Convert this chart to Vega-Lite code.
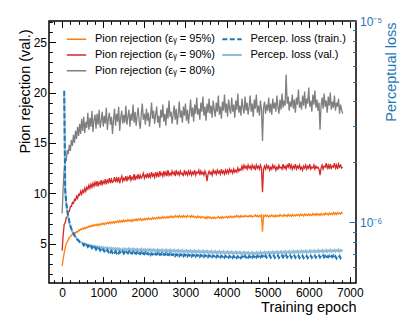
{
"$schema":"https://vega.github.io/schema/vega-lite/v6.json",
"width":307,"height":262,
"autosize":{"type":"none"},
"padding":{"left":49,"top":21,"right":59,"bottom":49},
"config":{
 "view":{"stroke":"#000","strokeWidth":1.5},
 "font":"Liberation Sans",
 "axis":{"domain":false,"grid":false,"labelFont":"Liberation Sans","labelFontSize":12,"titleFont":"Liberation Sans","titleFontSize":14.5,"titleFontWeight":"normal","labelColor":"#000","titleColor":"#000","tickColor":"#000","tickWidth":1,"labelFlush":false,"labelOverlap":false,"labelBound":false},
 "legend":{"labelFont":"Liberation Sans"}
},
"datasets":{
"p95":[{"e":0,"v":2.8},{"e":25,"v":3.5},{"e":50,"v":4.1},{"e":75,"v":4.6},{"e":100,"v":5.0},{"e":125,"v":5.2},{"e":150,"v":5.4},{"e":175,"v":5.6},{"e":200,"v":5.75},{"e":225,"v":5.8},{"e":250,"v":5.95},{"e":275,"v":5.9},{"e":300,"v":6.1},{"e":325,"v":6.05},{"e":350,"v":6.2},{"e":375,"v":6.15},{"e":400,"v":6.35},{"e":425,"v":6.3},{"e":450,"v":6.45},{"e":475,"v":6.4},{"e":500,"v":6.55},{"e":525,"v":6.45},{"e":550,"v":6.6},{"e":575,"v":6.5},{"e":600,"v":6.65},{"e":625,"v":6.6},{"e":650,"v":6.75},{"e":675,"v":6.65},{"e":700,"v":6.8},{"e":725,"v":6.7},{"e":750,"v":6.85},{"e":775,"v":6.75},{"e":800,"v":6.9},{"e":825,"v":6.8},{"e":850,"v":6.95},{"e":875,"v":6.8},{"e":900,"v":6.95},{"e":925,"v":6.85},{"e":950,"v":7.0},{"e":975,"v":6.9},{"e":1000,"v":7.05},{"e":1025,"v":6.9},{"e":1050,"v":7.05},{"e":1075,"v":6.95},{"e":1100,"v":7.1},{"e":1125,"v":7.0},{"e":1150,"v":7.15},{"e":1175,"v":7.0},{"e":1200,"v":7.15},{"e":1225,"v":7.05},{"e":1250,"v":7.2},{"e":1275,"v":7.05},{"e":1300,"v":7.2},{"e":1325,"v":7.1},{"e":1350,"v":7.25},{"e":1375,"v":7.1},{"e":1400,"v":7.3},{"e":1425,"v":7.15},{"e":1450,"v":7.3},{"e":1475,"v":7.15},{"e":1500,"v":7.35},{"e":1525,"v":7.2},{"e":1550,"v":7.3},{"e":1575,"v":7.2},{"e":1600,"v":7.4},{"e":1625,"v":7.25},{"e":1650,"v":7.35},{"e":1675,"v":7.2},{"e":1700,"v":7.4},{"e":1725,"v":7.25},{"e":1750,"v":7.4},{"e":1775,"v":7.3},{"e":1800,"v":7.45},{"e":1825,"v":7.3},{"e":1850,"v":7.45},{"e":1875,"v":7.35},{"e":1900,"v":7.5},{"e":1925,"v":7.3},{"e":1950,"v":7.45},{"e":1975,"v":7.35},{"e":2000,"v":7.5},{"e":2025,"v":7.35},{"e":2050,"v":7.5},{"e":2075,"v":7.4},{"e":2100,"v":7.55},{"e":2125,"v":7.4},{"e":2150,"v":7.5},{"e":2175,"v":7.4},{"e":2200,"v":7.6},{"e":2225,"v":7.45},{"e":2250,"v":7.55},{"e":2275,"v":7.45},{"e":2300,"v":7.6},{"e":2325,"v":7.5},{"e":2350,"v":7.65},{"e":2375,"v":7.5},{"e":2400,"v":7.6},{"e":2425,"v":7.5},{"e":2450,"v":7.7},{"e":2475,"v":7.55},{"e":2500,"v":7.65},{"e":2525,"v":7.55},{"e":2550,"v":7.7},{"e":2575,"v":7.55},{"e":2600,"v":7.7},{"e":2625,"v":7.6},{"e":2650,"v":7.75},{"e":2675,"v":7.6},{"e":2700,"v":7.7},{"e":2725,"v":7.6},{"e":2750,"v":7.8},{"e":2775,"v":7.65},{"e":2800,"v":7.75},{"e":2825,"v":7.6},{"e":2850,"v":7.8},{"e":2875,"v":7.65},{"e":2900,"v":7.75},{"e":2925,"v":7.6},{"e":2950,"v":7.8},{"e":2975,"v":7.65},{"e":3000,"v":7.75},{"e":3025,"v":7.6},{"e":3050,"v":7.8},{"e":3075,"v":7.7},{"e":3100,"v":7.75},{"e":3125,"v":7.6},{"e":3150,"v":7.8},{"e":3175,"v":7.65},{"e":3200,"v":7.75},{"e":3225,"v":7.6},{"e":3250,"v":7.7},{"e":3275,"v":7.55},{"e":3300,"v":7.75},{"e":3325,"v":7.6},{"e":3350,"v":7.7},{"e":3375,"v":7.55},{"e":3400,"v":7.7},{"e":3425,"v":7.6},{"e":3450,"v":7.65},{"e":3475,"v":7.5},{"e":3500,"v":7.65},{"e":3525,"v":7.5},{"e":3550,"v":7.7},{"e":3575,"v":7.55},{"e":3600,"v":7.65},{"e":3625,"v":7.5},{"e":3650,"v":7.6},{"e":3675,"v":7.5},{"e":3700,"v":7.65},{"e":3725,"v":7.5},{"e":3750,"v":7.6},{"e":3775,"v":7.55},{"e":3800,"v":7.7},{"e":3825,"v":7.55},{"e":3850,"v":7.65},{"e":3875,"v":7.5},{"e":3900,"v":7.7},{"e":3925,"v":7.55},{"e":3950,"v":7.65},{"e":3975,"v":7.6},{"e":4000,"v":7.7},{"e":4025,"v":7.55},{"e":4050,"v":7.7},{"e":4075,"v":7.6},{"e":4100,"v":7.75},{"e":4125,"v":7.6},{"e":4150,"v":7.7},{"e":4175,"v":7.6},{"e":4200,"v":7.75},{"e":4225,"v":7.65},{"e":4250,"v":7.8},{"e":4275,"v":7.65},{"e":4300,"v":7.75},{"e":4325,"v":7.6},{"e":4350,"v":7.8},{"e":4375,"v":7.65},{"e":4400,"v":7.75},{"e":4425,"v":7.65},{"e":4450,"v":7.8},{"e":4475,"v":7.7},{"e":4500,"v":7.75},{"e":4525,"v":7.65},{"e":4550,"v":7.8},{"e":4575,"v":7.7},{"e":4600,"v":7.8},{"e":4625,"v":7.65},{"e":4650,"v":7.75},{"e":4675,"v":7.7},{"e":4700,"v":7.85},{"e":4725,"v":7.7},{"e":4750,"v":7.8},{"e":4775,"v":7.65},{"e":4800,"v":7.8},{"e":4825,"v":7.7},{"e":4850,"v":7.85},{"e":4875,"v":6.2},{"e":4900,"v":7.8},{"e":4925,"v":7.7},{"e":4950,"v":7.85},{"e":4975,"v":7.7},{"e":5000,"v":7.8},{"e":5025,"v":7.65},{"e":5050,"v":7.8},{"e":5075,"v":7.7},{"e":5100,"v":7.85},{"e":5125,"v":7.7},{"e":5150,"v":7.8},{"e":5175,"v":7.65},{"e":5200,"v":7.85},{"e":5225,"v":7.7},{"e":5250,"v":7.8},{"e":5275,"v":7.7},{"e":5300,"v":7.9},{"e":5325,"v":7.75},{"e":5350,"v":7.8},{"e":5375,"v":7.7},{"e":5400,"v":7.9},{"e":5425,"v":7.75},{"e":5450,"v":7.85},{"e":5475,"v":7.7},{"e":5500,"v":7.9},{"e":5525,"v":7.75},{"e":5550,"v":7.85},{"e":5575,"v":7.7},{"e":5600,"v":7.9},{"e":5625,"v":7.75},{"e":5650,"v":7.85},{"e":5675,"v":7.75},{"e":5700,"v":7.9},{"e":5725,"v":7.8},{"e":5750,"v":7.9},{"e":5775,"v":7.75},{"e":5800,"v":7.95},{"e":5825,"v":7.8},{"e":5850,"v":7.9},{"e":5875,"v":7.75},{"e":5900,"v":7.95},{"e":5925,"v":7.8},{"e":5950,"v":7.9},{"e":5975,"v":7.8},{"e":6000,"v":7.95},{"e":6025,"v":7.8},{"e":6050,"v":7.9},{"e":6075,"v":7.8},{"e":6100,"v":8.0},{"e":6125,"v":7.85},{"e":6150,"v":7.95},{"e":6175,"v":7.8},{"e":6200,"v":8.0},{"e":6225,"v":7.85},{"e":6250,"v":7.95},{"e":6275,"v":7.8},{"e":6300,"v":8.0},{"e":6325,"v":7.85},{"e":6350,"v":7.95},{"e":6375,"v":7.85},{"e":6400,"v":8.05},{"e":6425,"v":7.9},{"e":6450,"v":8.0},{"e":6475,"v":7.85},{"e":6500,"v":8.05},{"e":6525,"v":7.9},{"e":6550,"v":8.0},{"e":6575,"v":7.9},{"e":6600,"v":8.1},{"e":6625,"v":7.9},{"e":6650,"v":8.05},{"e":6675,"v":7.9},{"e":6700,"v":8.1},{"e":6725,"v":7.95},{"e":6750,"v":8.05},{"e":6775,"v":7.95},{"e":6800,"v":8.1},{"e":6825,"v":8.0}],
"p90":[{"e":0,"v":4.3},{"e":25,"v":5.9},{"e":50,"v":6.9},{"e":75,"v":7.1},{"e":100,"v":7.6},{"e":125,"v":7.7},{"e":150,"v":8.2},{"e":175,"v":8.2},{"e":200,"v":8.7},{"e":225,"v":8.7},{"e":250,"v":9.1},{"e":275,"v":9.0},{"e":300,"v":9.4},{"e":325,"v":9.3},{"e":350,"v":9.7},{"e":375,"v":9.5},{"e":400,"v":9.9},{"e":425,"v":9.8},{"e":450,"v":10.2},{"e":475,"v":9.9},{"e":500,"v":10.3},{"e":525,"v":10.1},{"e":550,"v":10.5},{"e":575,"v":10.2},{"e":600,"v":10.6},{"e":625,"v":10.4},{"e":650,"v":10.8},{"e":675,"v":10.5},{"e":700,"v":10.9},{"e":725,"v":10.6},{"e":750,"v":11.0},{"e":775,"v":10.7},{"e":800,"v":11.1},{"e":825,"v":10.8},{"e":850,"v":11.2},{"e":875,"v":10.7},{"e":900,"v":11.1},{"e":925,"v":10.9},{"e":950,"v":11.3},{"e":975,"v":10.8},{"e":1000,"v":11.2},{"e":1025,"v":11.0},{"e":1050,"v":11.4},{"e":1075,"v":10.9},{"e":1100,"v":11.3},{"e":1125,"v":11.1},{"e":1150,"v":11.5},{"e":1175,"v":11.0},{"e":1200,"v":11.4},{"e":1225,"v":11.1},{"e":1250,"v":11.2},{"e":1275,"v":11.6},{"e":1300,"v":11.1},{"e":1325,"v":11.5},{"e":1350,"v":11.2},{"e":1375,"v":11.6},{"e":1400,"v":11.0},{"e":1425,"v":11.4},{"e":1450,"v":11.7},{"e":1475,"v":11.2},{"e":1500,"v":11.5},{"e":1525,"v":11.3},{"e":1550,"v":11.7},{"e":1575,"v":11.2},{"e":1600,"v":11.6},{"e":1625,"v":11.4},{"e":1650,"v":11.8},{"e":1675,"v":11.3},{"e":1700,"v":11.6},{"e":1725,"v":11.4},{"e":1750,"v":11.9},{"e":1775,"v":11.3},{"e":1800,"v":11.7},{"e":1825,"v":11.5},{"e":1850,"v":11.9},{"e":1875,"v":11.4},{"e":1900,"v":11.8},{"e":1925,"v":11.5},{"e":1950,"v":11.7},{"e":1975,"v":12.0},{"e":2000,"v":11.5},{"e":2025,"v":11.8},{"e":2050,"v":11.6},{"e":2075,"v":12.0},{"e":2100,"v":11.5},{"e":2125,"v":11.9},{"e":2150,"v":11.6},{"e":2175,"v":12.1},{"e":2200,"v":11.7},{"e":2225,"v":11.9},{"e":2250,"v":11.6},{"e":2275,"v":12.1},{"e":2300,"v":11.7},{"e":2325,"v":12.0},{"e":2350,"v":11.6},{"e":2375,"v":12.2},{"e":2400,"v":11.8},{"e":2425,"v":12.0},{"e":2450,"v":11.7},{"e":2475,"v":12.2},{"e":2500,"v":11.8},{"e":2525,"v":12.1},{"e":2550,"v":11.7},{"e":2575,"v":12.3},{"e":2600,"v":11.8},{"e":2625,"v":12.0},{"e":2650,"v":11.8},{"e":2675,"v":12.2},{"e":2700,"v":11.9},{"e":2725,"v":12.1},{"e":2750,"v":11.7},{"e":2775,"v":12.3},{"e":2800,"v":11.9},{"e":2825,"v":12.1},{"e":2850,"v":11.8},{"e":2875,"v":12.2},{"e":2900,"v":11.9},{"e":2925,"v":12.0},{"e":2950,"v":11.7},{"e":2975,"v":12.3},{"e":3000,"v":11.9},{"e":3025,"v":12.1},{"e":3050,"v":11.8},{"e":3075,"v":12.2},{"e":3100,"v":11.9},{"e":3125,"v":12.2},{"e":3150,"v":11.8},{"e":3175,"v":12.1},{"e":3200,"v":11.9},{"e":3225,"v":12.3},{"e":3250,"v":11.8},{"e":3275,"v":12.1},{"e":3300,"v":12.0},{"e":3325,"v":12.3},{"e":3350,"v":11.8},{"e":3375,"v":12.2},{"e":3400,"v":11.9},{"e":3425,"v":12.1},{"e":3450,"v":11.8},{"e":3475,"v":12.2},{"e":3500,"v":11.9},{"e":3525,"v":11.2},{"e":3550,"v":11.9},{"e":3575,"v":12.2},{"e":3600,"v":11.9},{"e":3625,"v":12.1},{"e":3650,"v":11.8},{"e":3675,"v":12.3},{"e":3700,"v":12.0},{"e":3725,"v":12.2},{"e":3750,"v":11.9},{"e":3775,"v":12.3},{"e":3800,"v":12.0},{"e":3825,"v":12.2},{"e":3850,"v":11.9},{"e":3875,"v":12.4},{"e":3900,"v":12.0},{"e":3925,"v":12.2},{"e":3950,"v":11.9},{"e":3975,"v":12.3},{"e":4000,"v":12.0},{"e":4025,"v":12.3},{"e":4050,"v":12.0},{"e":4075,"v":12.4},{"e":4100,"v":12.1},{"e":4125,"v":12.3},{"e":4150,"v":12.0},{"e":4175,"v":12.4},{"e":4200,"v":12.1},{"e":4225,"v":12.3},{"e":4250,"v":12.1},{"e":4275,"v":12.5},{"e":4300,"v":12.2},{"e":4325,"v":12.4},{"e":4350,"v":12.3},{"e":4375,"v":12.7},{"e":4400,"v":12.4},{"e":4425,"v":12.8},{"e":4450,"v":12.5},{"e":4475,"v":12.7},{"e":4500,"v":12.4},{"e":4525,"v":12.8},{"e":4550,"v":12.5},{"e":4575,"v":12.7},{"e":4600,"v":12.4},{"e":4625,"v":12.8},{"e":4650,"v":12.5},{"e":4675,"v":12.7},{"e":4700,"v":12.3},{"e":4725,"v":12.8},{"e":4750,"v":12.5},{"e":4775,"v":12.7},{"e":4800,"v":12.4},{"e":4825,"v":12.8},{"e":4850,"v":12.5},{"e":4875,"v":10.1},{"e":4900,"v":12.4},{"e":4925,"v":12.7},{"e":4950,"v":12.4},{"e":4975,"v":12.8},{"e":5000,"v":12.5},{"e":5025,"v":12.7},{"e":5050,"v":12.3},{"e":5075,"v":12.6},{"e":5100,"v":12.4},{"e":5125,"v":12.8},{"e":5150,"v":12.5},{"e":5175,"v":12.7},{"e":5200,"v":12.3},{"e":5225,"v":12.6},{"e":5250,"v":12.4},{"e":5275,"v":12.8},{"e":5300,"v":12.5},{"e":5325,"v":12.6},{"e":5350,"v":12.4},{"e":5375,"v":12.9},{"e":5400,"v":12.5},{"e":5425,"v":12.7},{"e":5450,"v":12.4},{"e":5475,"v":12.8},{"e":5500,"v":12.6},{"e":5525,"v":13.0},{"e":5550,"v":12.5},{"e":5575,"v":12.8},{"e":5600,"v":12.4},{"e":5625,"v":12.7},{"e":5650,"v":12.5},{"e":5675,"v":12.9},{"e":5700,"v":12.4},{"e":5725,"v":12.7},{"e":5750,"v":12.5},{"e":5775,"v":12.8},{"e":5800,"v":12.4},{"e":5825,"v":12.6},{"e":5850,"v":12.3},{"e":5875,"v":12.7},{"e":5900,"v":12.5},{"e":5925,"v":12.8},{"e":5950,"v":12.4},{"e":5975,"v":12.7},{"e":6000,"v":12.5},{"e":6025,"v":12.9},{"e":6050,"v":12.4},{"e":6075,"v":12.6},{"e":6100,"v":12.5},{"e":6125,"v":12.8},{"e":6150,"v":12.4},{"e":6175,"v":12.7},{"e":6200,"v":12.5},{"e":6225,"v":12.6},{"e":6250,"v":12.4},{"e":6275,"v":11.8},{"e":6300,"v":12.5},{"e":6325,"v":12.8},{"e":6350,"v":12.4},{"e":6375,"v":12.7},{"e":6400,"v":12.6},{"e":6425,"v":13.0},{"e":6450,"v":12.5},{"e":6475,"v":12.8},{"e":6500,"v":12.4},{"e":6525,"v":12.9},{"e":6550,"v":12.5},{"e":6575,"v":12.7},{"e":6600,"v":12.6},{"e":6625,"v":13.0},{"e":6650,"v":12.5},{"e":6675,"v":12.8},{"e":6700,"v":12.4},{"e":6725,"v":12.9},{"e":6750,"v":12.6},{"e":6775,"v":12.8},{"e":6800,"v":12.5},{"e":6825,"v":12.6}],
"p80":[{"e":0,"v":8.0},{"e":25,"v":10.6},{"e":50,"v":12.4},{"e":75,"v":13.6},{"e":100,"v":13.2},{"e":125,"v":14.3},{"e":150,"v":13.9},{"e":175,"v":14.8},{"e":200,"v":14.2},{"e":225,"v":15.3},{"e":250,"v":14.7},{"e":275,"v":15.8},{"e":300,"v":15.0},{"e":325,"v":16.2},{"e":350,"v":15.4},{"e":375,"v":16.6},{"e":400,"v":15.7},{"e":425,"v":16.9},{"e":450,"v":15.9},{"e":475,"v":17.4},{"e":500,"v":16.2},{"e":525,"v":17.6},{"e":550,"v":16.0},{"e":575,"v":17.1},{"e":600,"v":16.5},{"e":625,"v":18.0},{"e":650,"v":16.3},{"e":675,"v":17.5},{"e":700,"v":16.6},{"e":725,"v":18.2},{"e":750,"v":16.1},{"e":775,"v":17.3},{"e":800,"v":17.8},{"e":825,"v":16.4},{"e":850,"v":17.9},{"e":875,"v":16.8},{"e":900,"v":18.3},{"e":925,"v":16.5},{"e":950,"v":17.2},{"e":975,"v":18.1},{"e":1000,"v":16.6},{"e":1025,"v":17.7},{"e":1050,"v":16.9},{"e":1075,"v":18.5},{"e":1100,"v":16.3},{"e":1125,"v":17.4},{"e":1150,"v":18.0},{"e":1175,"v":16.8},{"e":1200,"v":17.6},{"e":1225,"v":15.9},{"e":1250,"v":17.3},{"e":1275,"v":18.4},{"e":1300,"v":16.7},{"e":1325,"v":17.9},{"e":1350,"v":17.1},{"e":1375,"v":18.6},{"e":1400,"v":16.2},{"e":1425,"v":17.5},{"e":1450,"v":18.2},{"e":1475,"v":16.9},{"e":1500,"v":17.8},{"e":1525,"v":17.0},{"e":1550,"v":18.7},{"e":1575,"v":16.8},{"e":1600,"v":17.6},{"e":1625,"v":18.3},{"e":1650,"v":16.6},{"e":1675,"v":17.9},{"e":1700,"v":17.2},{"e":1725,"v":18.8},{"e":1750,"v":17.0},{"e":1775,"v":18.1},{"e":1800,"v":16.7},{"e":1825,"v":17.7},{"e":1850,"v":18.5},{"e":1875,"v":17.1},{"e":1900,"v":16.4},{"e":1925,"v":17.8},{"e":1950,"v":18.9},{"e":1975,"v":17.3},{"e":2000,"v":17.9},{"e":2025,"v":16.8},{"e":2050,"v":18.4},{"e":2075,"v":17.2},{"e":2100,"v":18.0},{"e":2125,"v":16.6},{"e":2150,"v":17.6},{"e":2175,"v":19.0},{"e":2200,"v":17.4},{"e":2225,"v":18.2},{"e":2250,"v":16.9},{"e":2275,"v":17.8},{"e":2300,"v":18.6},{"e":2325,"v":17.0},{"e":2350,"v":17.7},{"e":2375,"v":16.5},{"e":2400,"v":18.3},{"e":2425,"v":17.5},{"e":2450,"v":18.8},{"e":2475,"v":17.1},{"e":2500,"v":17.9},{"e":2525,"v":16.7},{"e":2550,"v":18.5},{"e":2575,"v":17.4},{"e":2600,"v":19.2},{"e":2625,"v":17.6},{"e":2650,"v":18.1},{"e":2675,"v":16.9},{"e":2700,"v":17.8},{"e":2725,"v":18.7},{"e":2750,"v":17.3},{"e":2775,"v":18.4},{"e":2800,"v":16.8},{"e":2825,"v":17.9},{"e":2850,"v":19.1},{"e":2875,"v":17.5},{"e":2900,"v":18.2},{"e":2925,"v":17.0},{"e":2950,"v":18.6},{"e":2975,"v":17.7},{"e":3000,"v":18.9},{"e":3025,"v":17.2},{"e":3050,"v":18.3},{"e":3075,"v":16.9},{"e":3100,"v":18.0},{"e":3125,"v":19.3},{"e":3150,"v":17.6},{"e":3175,"v":18.5},{"e":3200,"v":17.1},{"e":3225,"v":18.8},{"e":3250,"v":17.9},{"e":3275,"v":19.5},{"e":3300,"v":17.8},{"e":3325,"v":18.4},{"e":3350,"v":17.3},{"e":3375,"v":19.0},{"e":3400,"v":18.1},{"e":3425,"v":19.6},{"e":3450,"v":17.7},{"e":3475,"v":18.6},{"e":3500,"v":17.2},{"e":3525,"v":18.9},{"e":3550,"v":18.0},{"e":3575,"v":19.4},{"e":3600,"v":17.9},{"e":3625,"v":18.7},{"e":3650,"v":17.5},{"e":3675,"v":19.2},{"e":3700,"v":18.3},{"e":3725,"v":17.6},{"e":3750,"v":19.0},{"e":3775,"v":18.1},{"e":3800,"v":19.7},{"e":3825,"v":17.8},{"e":3850,"v":18.6},{"e":3875,"v":17.4},{"e":3900,"v":19.1},{"e":3925,"v":18.2},{"e":3950,"v":19.8},{"e":3975,"v":18.0},{"e":4000,"v":18.9},{"e":4025,"v":17.6},{"e":4050,"v":19.3},{"e":4075,"v":18.4},{"e":4100,"v":17.9},{"e":4125,"v":19.5},{"e":4150,"v":18.1},{"e":4175,"v":18.8},{"e":4200,"v":17.5},{"e":4225,"v":19.2},{"e":4250,"v":18.3},{"e":4275,"v":19.9},{"e":4300,"v":18.0},{"e":4325,"v":18.7},{"e":4350,"v":17.7},{"e":4375,"v":19.4},{"e":4400,"v":18.5},{"e":4425,"v":17.9},{"e":4450,"v":19.6},{"e":4475,"v":18.2},{"e":4500,"v":19.0},{"e":4525,"v":17.8},{"e":4550,"v":18.6},{"e":4575,"v":19.7},{"e":4600,"v":18.1},{"e":4625,"v":18.9},{"e":4650,"v":17.6},{"e":4675,"v":19.3},{"e":4700,"v":18.4},{"e":4725,"v":19.8},{"e":4750,"v":18.0},{"e":4775,"v":18.7},{"e":4800,"v":17.7},{"e":4825,"v":19.2},{"e":4850,"v":18.3},{"e":4875,"v":15.2},{"e":4900,"v":18.5},{"e":4925,"v":19.1},{"e":4950,"v":17.9},{"e":4975,"v":18.8},{"e":5000,"v":18.2},{"e":5025,"v":19.5},{"e":5050,"v":18.0},{"e":5075,"v":18.9},{"e":5100,"v":17.8},{"e":5125,"v":19.4},{"e":5150,"v":18.4},{"e":5175,"v":19.0},{"e":5200,"v":18.1},{"e":5225,"v":19.7},{"e":5250,"v":18.6},{"e":5275,"v":17.9},{"e":5300,"v":19.3},{"e":5325,"v":18.3},{"e":5350,"v":19.9},{"e":5375,"v":18.5},{"e":5400,"v":19.2},{"e":5425,"v":18.7},{"e":5450,"v":21.8},{"e":5475,"v":18.9},{"e":5500,"v":19.6},{"e":5525,"v":18.2},{"e":5550,"v":19.1},{"e":5575,"v":18.6},{"e":5600,"v":19.8},{"e":5625,"v":18.4},{"e":5650,"v":19.3},{"e":5675,"v":18.0},{"e":5700,"v":19.5},{"e":5725,"v":18.8},{"e":5750,"v":20.3},{"e":5775,"v":18.5},{"e":5800,"v":19.1},{"e":5825,"v":18.3},{"e":5850,"v":19.7},{"e":5875,"v":18.7},{"e":5900,"v":20.1},{"e":5925,"v":18.4},{"e":5950,"v":19.4},{"e":5975,"v":18.9},{"e":6000,"v":20.5},{"e":6025,"v":18.6},{"e":6050,"v":19.2},{"e":6075,"v":18.1},{"e":6100,"v":19.8},{"e":6125,"v":18.8},{"e":6150,"v":20.2},{"e":6175,"v":18.5},{"e":6200,"v":19.3},{"e":6225,"v":18.2},{"e":6250,"v":19.0},{"e":6275,"v":16.3},{"e":6300,"v":18.7},{"e":6325,"v":19.5},{"e":6350,"v":18.4},{"e":6375,"v":19.9},{"e":6400,"v":18.6},{"e":6425,"v":19.2},{"e":6450,"v":18.0},{"e":6475,"v":19.6},{"e":6500,"v":18.7},{"e":6525,"v":20.0},{"e":6550,"v":18.3},{"e":6575,"v":19.1},{"e":6600,"v":18.5},{"e":6625,"v":19.7},{"e":6650,"v":18.2},{"e":6675,"v":19.0},{"e":6700,"v":18.6},{"e":6725,"v":19.4},{"e":6750,"v":17.9},{"e":6775,"v":18.8},{"e":6800,"v":18.3},{"e":6825,"v":17.9}],
"ltrain":[{"e":50,"v":4.5e-6},{"e":75,"v":1.45e-6},{"e":100,"v":1.25e-6},{"e":125,"v":1.14e-6},{"e":150,"v":1.07e-6},{"e":175,"v":1.01e-6},{"e":200,"v":9.6e-7},{"e":225,"v":9.3e-7},{"e":250,"v":9.0e-7},{"e":275,"v":8.8e-7},{"e":300,"v":8.62e-7},{"e":325,"v":8.45e-7},{"e":350,"v":8.33e-7},{"e":375,"v":8.18e-7},{"e":400,"v":8.12e-7},{"e":425,"v":7.98e-7},{"e":450,"v":7.96e-7},{"e":475,"v":7.86e-7},{"e":500,"v":7.85e-7},{"e":525,"v":7.68e-7},{"e":550,"v":7.79e-7},{"e":575,"v":7.62e-7},{"e":600,"v":7.71e-7},{"e":625,"v":7.55e-7},{"e":650,"v":7.66e-7},{"e":675,"v":7.49e-7},{"e":700,"v":7.6e-7},{"e":725,"v":7.44e-7},{"e":750,"v":7.55e-7},{"e":775,"v":7.38e-7},{"e":800,"v":7.5e-7},{"e":825,"v":7.33e-7},{"e":850,"v":7.45e-7},{"e":875,"v":7.3e-7},{"e":900,"v":7.41e-7},{"e":925,"v":7.25e-7},{"e":950,"v":7.38e-7},{"e":975,"v":7.22e-7},{"e":1000,"v":7.33e-7},{"e":1025,"v":7.18e-7},{"e":1050,"v":7.3e-7},{"e":1075,"v":7.15e-7},{"e":1100,"v":7.28e-7},{"e":1125,"v":7.12e-7},{"e":1150,"v":7.25e-7},{"e":1175,"v":7.1e-7},{"e":1200,"v":7.22e-7},{"e":1225,"v":7.06e-7},{"e":1250,"v":7.2e-7},{"e":1275,"v":7.08e-7},{"e":1300,"v":7.19e-7},{"e":1325,"v":7.04e-7},{"e":1350,"v":7.17e-7},{"e":1375,"v":7.02e-7},{"e":1400,"v":7.16e-7},{"e":1425,"v":7.05e-7},{"e":1450,"v":6.98e-7},{"e":1475,"v":7.14e-7},{"e":1500,"v":7.0e-7},{"e":1525,"v":7.12e-7},{"e":1550,"v":6.97e-7},{"e":1575,"v":7.1e-7},{"e":1600,"v":7.02e-7},{"e":1625,"v":7.15e-7},{"e":1650,"v":6.96e-7},{"e":1675,"v":7.08e-7},{"e":1700,"v":7.0e-7},{"e":1725,"v":7.12e-7},{"e":1750,"v":6.94e-7},{"e":1775,"v":7.06e-7},{"e":1800,"v":6.98e-7},{"e":1825,"v":7.1e-7},{"e":1850,"v":6.92e-7},{"e":1875,"v":7.04e-7},{"e":1900,"v":6.97e-7},{"e":1925,"v":7.09e-7},{"e":1950,"v":6.9e-7},{"e":1975,"v":7.03e-7},{"e":2000,"v":6.95e-7},{"e":2025,"v":7.08e-7},{"e":2050,"v":6.9e-7},{"e":2075,"v":7.02e-7},{"e":2100,"v":6.94e-7},{"e":2125,"v":7.06e-7},{"e":2150,"v":6.88e-7},{"e":2175,"v":7.0e-7},{"e":2200,"v":6.93e-7},{"e":2225,"v":7.05e-7},{"e":2250,"v":6.87e-7},{"e":2275,"v":6.99e-7},{"e":2300,"v":6.92e-7},{"e":2325,"v":7.04e-7},{"e":2350,"v":6.86e-7},{"e":2375,"v":6.98e-7},{"e":2400,"v":6.91e-7},{"e":2425,"v":7.03e-7},{"e":2450,"v":6.85e-7},{"e":2475,"v":6.97e-7},{"e":2500,"v":6.9e-7},{"e":2525,"v":7.02e-7},{"e":2550,"v":6.84e-7},{"e":2575,"v":6.96e-7},{"e":2600,"v":6.89e-7},{"e":2625,"v":7.01e-7},{"e":2650,"v":6.83e-7},{"e":2675,"v":6.95e-7},{"e":2700,"v":6.88e-7},{"e":2725,"v":7.0e-7},{"e":2750,"v":6.82e-7},{"e":2775,"v":6.94e-7},{"e":2800,"v":6.87e-7},{"e":2825,"v":6.99e-7},{"e":2850,"v":6.81e-7},{"e":2875,"v":6.93e-7},{"e":2900,"v":6.86e-7},{"e":2925,"v":6.98e-7},{"e":2950,"v":6.8e-7},{"e":2975,"v":6.92e-7},{"e":3000,"v":6.85e-7},{"e":3025,"v":6.97e-7},{"e":3050,"v":6.79e-7},{"e":3075,"v":6.91e-7},{"e":3100,"v":6.84e-7},{"e":3125,"v":6.96e-7},{"e":3150,"v":6.78e-7},{"e":3175,"v":6.9e-7},{"e":3200,"v":6.83e-7},{"e":3225,"v":6.95e-7},{"e":3250,"v":6.77e-7},{"e":3275,"v":6.89e-7},{"e":3300,"v":6.82e-7},{"e":3325,"v":6.94e-7},{"e":3350,"v":6.76e-7},{"e":3375,"v":6.88e-7},{"e":3400,"v":6.81e-7},{"e":3425,"v":6.93e-7},{"e":3450,"v":6.75e-7},{"e":3475,"v":6.87e-7},{"e":3500,"v":6.8e-7},{"e":3525,"v":6.92e-7},{"e":3550,"v":6.74e-7},{"e":3575,"v":6.86e-7},{"e":3600,"v":6.79e-7},{"e":3625,"v":6.91e-7},{"e":3650,"v":6.73e-7},{"e":3675,"v":6.85e-7},{"e":3700,"v":6.78e-7},{"e":3725,"v":6.9e-7},{"e":3750,"v":6.72e-7},{"e":3775,"v":6.84e-7},{"e":3800,"v":6.77e-7},{"e":3825,"v":6.89e-7},{"e":3850,"v":6.71e-7},{"e":3875,"v":6.83e-7},{"e":3900,"v":6.76e-7},{"e":3925,"v":6.88e-7},{"e":3950,"v":6.7e-7},{"e":3975,"v":6.82e-7},{"e":4000,"v":6.75e-7},{"e":4025,"v":6.87e-7},{"e":4050,"v":6.69e-7},{"e":4075,"v":6.81e-7},{"e":4100,"v":6.74e-7},{"e":4125,"v":6.86e-7},{"e":4150,"v":6.68e-7},{"e":4175,"v":6.8e-7},{"e":4200,"v":6.73e-7},{"e":4225,"v":6.85e-7},{"e":4250,"v":6.67e-7},{"e":4275,"v":6.79e-7},{"e":4300,"v":6.72e-7},{"e":4325,"v":6.84e-7},{"e":4350,"v":6.66e-7},{"e":4375,"v":6.78e-7},{"e":4400,"v":6.6e-7},{"e":4425,"v":6.76e-7},{"e":4450,"v":6.83e-7},{"e":4475,"v":6.7e-7},{"e":4500,"v":6.82e-7},{"e":4525,"v":6.68e-7},{"e":4550,"v":6.8e-7},{"e":4575,"v":6.73e-7},{"e":4600,"v":6.85e-7},{"e":4625,"v":6.69e-7},{"e":4650,"v":6.81e-7},{"e":4675,"v":6.74e-7},{"e":4700,"v":6.86e-7},{"e":4725,"v":6.7e-7},{"e":4750,"v":6.82e-7},{"e":4775,"v":6.75e-7},{"e":4800,"v":6.87e-7},{"e":4825,"v":6.71e-7},{"e":4850,"v":6.83e-7},{"e":4875,"v":6.76e-7},{"e":4900,"v":6.88e-7},{"e":4925,"v":6.72e-7},{"e":4950,"v":6.84e-7},{"e":4975,"v":6.7e-7},{"e":5000,"v":6.81e-7},{"e":5025,"v":6.74e-7},{"e":5050,"v":6.86e-7},{"e":5075,"v":6.69e-7},{"e":5100,"v":6.8e-7},{"e":5125,"v":6.73e-7},{"e":5150,"v":6.85e-7},{"e":5175,"v":6.68e-7},{"e":5200,"v":6.79e-7},{"e":5225,"v":6.72e-7},{"e":5250,"v":6.84e-7},{"e":5275,"v":6.67e-7},{"e":5300,"v":6.78e-7},{"e":5325,"v":6.71e-7},{"e":5350,"v":6.83e-7},{"e":5375,"v":6.7e-7},{"e":5400,"v":6.82e-7},{"e":5425,"v":6.74e-7},{"e":5450,"v":6.86e-7},{"e":5475,"v":6.69e-7},{"e":5500,"v":6.81e-7},{"e":5525,"v":6.73e-7},{"e":5550,"v":6.85e-7},{"e":5575,"v":6.68e-7},{"e":5600,"v":6.8e-7},{"e":5625,"v":6.72e-7},{"e":5650,"v":6.84e-7},{"e":5675,"v":6.67e-7},{"e":5700,"v":6.79e-7},{"e":5725,"v":6.71e-7},{"e":5750,"v":6.83e-7},{"e":5775,"v":6.66e-7},{"e":5800,"v":6.78e-7},{"e":5825,"v":6.7e-7},{"e":5850,"v":6.82e-7},{"e":5875,"v":6.65e-7},{"e":5900,"v":6.77e-7},{"e":5925,"v":6.69e-7},{"e":5950,"v":6.81e-7},{"e":5975,"v":6.66e-7},{"e":6000,"v":6.78e-7},{"e":6025,"v":6.7e-7},{"e":6050,"v":6.82e-7},{"e":6075,"v":6.67e-7},{"e":6100,"v":6.79e-7},{"e":6125,"v":6.71e-7},{"e":6150,"v":6.83e-7},{"e":6175,"v":6.68e-7},{"e":6200,"v":6.8e-7},{"e":6225,"v":6.72e-7},{"e":6250,"v":6.84e-7},{"e":6275,"v":6.69e-7},{"e":6300,"v":6.81e-7},{"e":6325,"v":6.73e-7},{"e":6350,"v":6.85e-7},{"e":6375,"v":6.7e-7},{"e":6400,"v":6.82e-7},{"e":6425,"v":6.66e-7},{"e":6450,"v":6.78e-7},{"e":6475,"v":6.71e-7},{"e":6500,"v":6.83e-7},{"e":6525,"v":6.68e-7},{"e":6550,"v":6.8e-7},{"e":6575,"v":6.72e-7},{"e":6600,"v":6.84e-7},{"e":6625,"v":6.67e-7},{"e":6650,"v":6.79e-7},{"e":6675,"v":6.63e-7},{"e":6700,"v":6.76e-7},{"e":6725,"v":6.69e-7},{"e":6750,"v":6.81e-7},{"e":6775,"v":6.64e-7},{"e":6800,"v":6.74e-7},{"e":6825,"v":6.68e-7}],
"lval":[{"e":50,"v":4.3e-6},{"e":75,"v":1.42e-6},{"e":100,"v":1.24e-6},{"e":125,"v":1.13e-6},{"e":150,"v":1.06e-6},{"e":175,"v":1.0e-6},{"e":200,"v":9.55e-7},{"e":225,"v":9.25e-7},{"e":250,"v":8.98e-7},{"e":275,"v":8.78e-7},{"e":300,"v":8.6e-7},{"e":325,"v":8.48e-7},{"e":350,"v":8.36e-7},{"e":375,"v":8.22e-7},{"e":400,"v":8.16e-7},{"e":425,"v":8.04e-7},{"e":450,"v":7.98e-7},{"e":475,"v":7.93e-7},{"e":500,"v":7.86e-7},{"e":525,"v":7.8e-7},{"e":550,"v":7.82e-7},{"e":575,"v":7.7e-7},{"e":600,"v":7.76e-7},{"e":625,"v":7.64e-7},{"e":650,"v":7.72e-7},{"e":675,"v":7.6e-7},{"e":700,"v":7.68e-7},{"e":725,"v":7.56e-7},{"e":750,"v":7.64e-7},{"e":775,"v":7.53e-7},{"e":800,"v":7.62e-7},{"e":825,"v":7.5e-7},{"e":850,"v":7.6e-7},{"e":875,"v":7.47e-7},{"e":900,"v":7.56e-7},{"e":925,"v":7.45e-7},{"e":950,"v":7.55e-7},{"e":975,"v":7.42e-7},{"e":1000,"v":7.52e-7},{"e":1025,"v":7.4e-7},{"e":1050,"v":7.5e-7},{"e":1075,"v":7.38e-7},{"e":1100,"v":7.49e-7},{"e":1125,"v":7.36e-7},{"e":1150,"v":7.47e-7},{"e":1175,"v":7.35e-7},{"e":1200,"v":7.46e-7},{"e":1225,"v":7.33e-7},{"e":1250,"v":7.44e-7},{"e":1275,"v":7.32e-7},{"e":1300,"v":7.43e-7},{"e":1325,"v":7.3e-7},{"e":1350,"v":7.42e-7},{"e":1375,"v":7.29e-7},{"e":1400,"v":7.41e-7},{"e":1425,"v":7.33e-7},{"e":1450,"v":7.26e-7},{"e":1475,"v":7.4e-7},{"e":1500,"v":7.28e-7},{"e":1525,"v":7.39e-7},{"e":1550,"v":7.25e-7},{"e":1575,"v":7.37e-7},{"e":1600,"v":7.3e-7},{"e":1625,"v":7.42e-7},{"e":1650,"v":7.24e-7},{"e":1675,"v":7.36e-7},{"e":1700,"v":7.28e-7},{"e":1725,"v":7.4e-7},{"e":1750,"v":7.23e-7},{"e":1775,"v":7.35e-7},{"e":1800,"v":7.27e-7},{"e":1825,"v":7.39e-7},{"e":1850,"v":7.22e-7},{"e":1875,"v":7.34e-7},{"e":1900,"v":7.26e-7},{"e":1925,"v":7.38e-7},{"e":1950,"v":7.21e-7},{"e":1975,"v":7.33e-7},{"e":2000,"v":7.25e-7},{"e":2025,"v":7.37e-7},{"e":2050,"v":7.2e-7},{"e":2075,"v":7.32e-7},{"e":2100,"v":7.24e-7},{"e":2125,"v":7.36e-7},{"e":2150,"v":7.19e-7},{"e":2175,"v":7.31e-7},{"e":2200,"v":7.23e-7},{"e":2225,"v":7.35e-7},{"e":2250,"v":7.18e-7},{"e":2275,"v":7.3e-7},{"e":2300,"v":7.22e-7},{"e":2325,"v":7.34e-7},{"e":2350,"v":7.17e-7},{"e":2375,"v":7.29e-7},{"e":2400,"v":7.21e-7},{"e":2425,"v":7.33e-7},{"e":2450,"v":7.16e-7},{"e":2475,"v":7.28e-7},{"e":2500,"v":7.2e-7},{"e":2525,"v":7.32e-7},{"e":2550,"v":7.15e-7},{"e":2575,"v":7.27e-7},{"e":2600,"v":7.19e-7},{"e":2625,"v":7.31e-7},{"e":2650,"v":7.14e-7},{"e":2675,"v":7.26e-7},{"e":2700,"v":7.18e-7},{"e":2725,"v":7.3e-7},{"e":2750,"v":7.13e-7},{"e":2775,"v":7.25e-7},{"e":2800,"v":7.17e-7},{"e":2825,"v":7.29e-7},{"e":2850,"v":7.12e-7},{"e":2875,"v":7.24e-7},{"e":2900,"v":7.16e-7},{"e":2925,"v":7.28e-7},{"e":2950,"v":7.11e-7},{"e":2975,"v":7.23e-7},{"e":3000,"v":7.15e-7},{"e":3025,"v":7.27e-7},{"e":3050,"v":7.1e-7},{"e":3075,"v":7.22e-7},{"e":3100,"v":7.14e-7},{"e":3125,"v":7.26e-7},{"e":3150,"v":7.09e-7},{"e":3175,"v":7.21e-7},{"e":3200,"v":7.13e-7},{"e":3225,"v":7.25e-7},{"e":3250,"v":7.08e-7},{"e":3275,"v":7.2e-7},{"e":3300,"v":7.12e-7},{"e":3325,"v":7.24e-7},{"e":3350,"v":7.07e-7},{"e":3375,"v":7.19e-7},{"e":3400,"v":7.11e-7},{"e":3425,"v":7.23e-7},{"e":3450,"v":7.06e-7},{"e":3475,"v":7.18e-7},{"e":3500,"v":7.1e-7},{"e":3525,"v":7.22e-7},{"e":3550,"v":7.05e-7},{"e":3575,"v":7.17e-7},{"e":3600,"v":7.09e-7},{"e":3625,"v":7.21e-7},{"e":3650,"v":7.04e-7},{"e":3675,"v":7.16e-7},{"e":3700,"v":7.08e-7},{"e":3725,"v":7.2e-7},{"e":3750,"v":7.03e-7},{"e":3775,"v":7.15e-7},{"e":3800,"v":7.07e-7},{"e":3825,"v":7.19e-7},{"e":3850,"v":7.02e-7},{"e":3875,"v":7.14e-7},{"e":3900,"v":7.06e-7},{"e":3925,"v":7.18e-7},{"e":3950,"v":7.01e-7},{"e":3975,"v":7.13e-7},{"e":4000,"v":7.05e-7},{"e":4025,"v":7.17e-7},{"e":4050,"v":7.0e-7},{"e":4075,"v":7.12e-7},{"e":4100,"v":7.04e-7},{"e":4125,"v":7.16e-7},{"e":4150,"v":7.0e-7},{"e":4175,"v":7.11e-7},{"e":4200,"v":7.03e-7},{"e":4225,"v":7.15e-7},{"e":4250,"v":6.99e-7},{"e":4275,"v":7.1e-7},{"e":4300,"v":7.02e-7},{"e":4325,"v":7.14e-7},{"e":4350,"v":6.98e-7},{"e":4375,"v":7.09e-7},{"e":4400,"v":7.01e-7},{"e":4425,"v":7.13e-7},{"e":4450,"v":6.97e-7},{"e":4475,"v":7.08e-7},{"e":4500,"v":7.0e-7},{"e":4525,"v":7.12e-7},{"e":4550,"v":6.96e-7},{"e":4575,"v":7.07e-7},{"e":4600,"v":6.99e-7},{"e":4625,"v":7.11e-7},{"e":4650,"v":6.95e-7},{"e":4675,"v":7.06e-7},{"e":4700,"v":7.0e-7},{"e":4725,"v":7.12e-7},{"e":4750,"v":6.96e-7},{"e":4775,"v":7.08e-7},{"e":4800,"v":7.01e-7},{"e":4825,"v":7.13e-7},{"e":4850,"v":6.97e-7},{"e":4875,"v":7.09e-7},{"e":4900,"v":7.02e-7},{"e":4925,"v":7.14e-7},{"e":4950,"v":6.98e-7},{"e":4975,"v":7.1e-7},{"e":5000,"v":7.03e-7},{"e":5025,"v":7.15e-7},{"e":5050,"v":6.99e-7},{"e":5075,"v":7.11e-7},{"e":5100,"v":7.04e-7},{"e":5125,"v":7.16e-7},{"e":5150,"v":7.0e-7},{"e":5175,"v":7.12e-7},{"e":5200,"v":7.05e-7},{"e":5225,"v":7.17e-7},{"e":5250,"v":7.01e-7},{"e":5275,"v":7.13e-7},{"e":5300,"v":7.06e-7},{"e":5325,"v":7.18e-7},{"e":5350,"v":7.02e-7},{"e":5375,"v":7.14e-7},{"e":5400,"v":7.07e-7},{"e":5425,"v":7.19e-7},{"e":5450,"v":7.03e-7},{"e":5475,"v":7.15e-7},{"e":5500,"v":7.08e-7},{"e":5525,"v":7.2e-7},{"e":5550,"v":7.04e-7},{"e":5575,"v":7.16e-7},{"e":5600,"v":7.09e-7},{"e":5625,"v":7.21e-7},{"e":5650,"v":7.05e-7},{"e":5675,"v":7.17e-7},{"e":5700,"v":7.1e-7},{"e":5725,"v":7.22e-7},{"e":5750,"v":7.06e-7},{"e":5775,"v":7.18e-7},{"e":5800,"v":7.11e-7},{"e":5825,"v":7.23e-7},{"e":5850,"v":7.07e-7},{"e":5875,"v":7.19e-7},{"e":5900,"v":7.12e-7},{"e":5925,"v":7.24e-7},{"e":5950,"v":7.08e-7},{"e":5975,"v":7.2e-7},{"e":6000,"v":7.13e-7},{"e":6025,"v":7.25e-7},{"e":6050,"v":7.09e-7},{"e":6075,"v":7.21e-7},{"e":6100,"v":7.14e-7},{"e":6125,"v":7.26e-7},{"e":6150,"v":7.1e-7},{"e":6175,"v":7.22e-7},{"e":6200,"v":7.15e-7},{"e":6225,"v":7.27e-7},{"e":6250,"v":7.11e-7},{"e":6275,"v":7.23e-7},{"e":6300,"v":7.16e-7},{"e":6325,"v":7.28e-7},{"e":6350,"v":7.12e-7},{"e":6375,"v":7.24e-7},{"e":6400,"v":7.17e-7},{"e":6425,"v":7.29e-7},{"e":6450,"v":7.13e-7},{"e":6475,"v":7.25e-7},{"e":6500,"v":7.18e-7},{"e":6525,"v":7.3e-7},{"e":6550,"v":7.14e-7},{"e":6575,"v":7.26e-7},{"e":6600,"v":7.19e-7},{"e":6625,"v":7.31e-7},{"e":6650,"v":7.15e-7},{"e":6675,"v":7.27e-7},{"e":6700,"v":7.2e-7},{"e":6725,"v":7.32e-7},{"e":6750,"v":7.16e-7},{"e":6775,"v":7.28e-7},{"e":6800,"v":7.21e-7},{"e":6825,"v":7.3e-7}]
},
"layer":[
 {"layer":[
  {"data":{"name":"p95"},"mark":{"type":"line","strokeWidth":1.3},
   "encoding":{
    "x":{"field":"e","type":"quantitative","scale":{"domain":[-320,7150],"nice":false,"zero":false},
      "axis":{"orient":"bottom","values":[0,1000,2000,3000,4000,5000,6000,7000],"format":"d","tickSize":-6.5,"labelPadding":10.5,"labelOverlap":false,"labelFlush":false,"title":"Training epoch","titleAnchor":"end","titlePadding":2}},
    "y":{"field":"v","type":"quantitative","scale":{"domain":[1.1,27.1],"nice":false,"zero":false},
      "axis":{"orient":"left","values":[5,10,15,20,25],"tickSize":-6.5,"labelPadding":9,"labelOverlap":false,"title":"Pion rejection (val.)","titleAnchor":"end","titleAlign":"right","titleY":8,"titlePadding":1}},
    "color":{"datum":"p95","type":"nominal",
      "scale":{"domain":["p95","p90","p80","ltrain","lval"],"range":["#ff7f0e","#d62728","#7f7f7f","#1f77b4","#8fbbd9"]},
      "legend":{"title":null,"orient":"none","legendX":22,"legendY":12.5,"columns":2,"symbolType":"stroke","symbolSize":376,"symbolStrokeWidth":2,"labelFontSize":11,"labelColor":"#000","labelOffset":13,"rowPadding":3.9,"columnPadding":1.5,"padding":0,"labelLimit":0,
        "labelExpr":"datum.label == 'p95' ? 'Pion rejection (εᵧ = 95%)' : datum.label == 'p90' ? 'Pion rejection (εᵧ = 90%)' : datum.label == 'p80' ? 'Pion rejection (εᵧ = 80%)' : datum.label == 'ltrain' ? 'Percep. loss (train.)' : 'Percep. loss (val.)'",
        "encode":{"symbols":{"update":{"strokeDash":{"signal":"datum.value == 'ltrain' ? [5, 2.5] : [1, 0]"},"strokeWidth":{"signal":"datum.value == 'ltrain' || datum.value == 'lval' ? 2 : 1.5"}}}}}}
   }},
  {"data":{"name":"p90"},"mark":{"type":"line","strokeWidth":1.3},
   "encoding":{
    "x":{"field":"e","type":"quantitative","axis":{"orient":"bottom","values":[-200,200,400,600,800,1200,1400,1600,1800,2200,2400,2600,2800,3200,3400,3600,3800,4200,4400,4600,4800,5200,5400,5600,5800,6200,6400,6600,6800],"tickSize":-3.3,"labels":false,"title":null}},
    "y":{"field":"v","type":"quantitative","axis":{"orient":"left","values":[2,3,4,6,7,8,9,11,12,13,14,16,17,18,19,21,22,23,24,26,27],"tickSize":-3.3,"labels":false,"title":null}},
    "color":{"datum":"p90","type":"nominal"}}},
  {"data":{"name":"p80"},"mark":{"type":"line","strokeWidth":1.3},
   "encoding":{"x":{"field":"e","type":"quantitative","axis":null},"y":{"field":"v","type":"quantitative","axis":null},"color":{"datum":"p80","type":"nominal"}}}
 ],
 "resolve":{"axis":{"x":"independent","y":"independent"}}},
 {"layer":[
  {"data":{"name":"lval"},"mark":{"type":"line","strokeWidth":2},
   "encoding":{
    "x":{"field":"e","type":"quantitative",
      "axis":{"orient":"top","values":[0,1000,2000,3000,4000,5000,6000,7000],"labels":false,"title":null,"tickSize":-6.5}},
    "y":{"field":"v","type":"quantitative","scale":{"type":"log","domain":[5e-7,1e-5],"nice":false},
      "axis":{"orient":"right","values":[1e-6,1e-5],"labelExpr":"datum.value > 5e-6 ? '10⁻⁵' : '10⁻⁶'","tickSize":-7,"labelPadding":10.5,"labelOverlap":false,"tickColor":"#1f77b4","labelColor":"#1f77b4","titleColor":"#1f77b4","title":"Perceptual loss","titleAngle":270,"titleAlign":"right","titleBaseline":"top","titleX":28,"titleY":1}},
    "color":{"datum":"lval","type":"nominal"}
   }},
  {"data":{"name":"ltrain"},"mark":{"type":"line","strokeWidth":2,"strokeDash":[5,2.5]},
   "encoding":{
    "x":{"field":"e","type":"quantitative","axis":{"orient":"top","values":[-200,200,400,600,800,1200,1400,1600,1800,2200,2400,2600,2800,3200,3400,3600,3800,4200,4400,4600,4800,5200,5400,5600,5800,6200,6400,6600,6800],"labels":false,"title":null,"tickSize":-3.3}},
    "y":{"field":"v","type":"quantitative","axis":{"orient":"right","values":[6e-7,7e-7,8e-7,9e-7,2e-6,3e-6,4e-6,5e-6,6e-6,7e-6,8e-6,9e-6],"labels":false,"title":null,"tickSize":-3.5,"tickColor":"#1f77b4"}},
    "color":{"datum":"ltrain","type":"nominal"}}}
 ],
 "resolve":{"axis":{"x":"independent","y":"independent"}}}
],
"resolve":{"scale":{"y":"independent"},"axis":{"x":"independent","y":"independent"}}
}
